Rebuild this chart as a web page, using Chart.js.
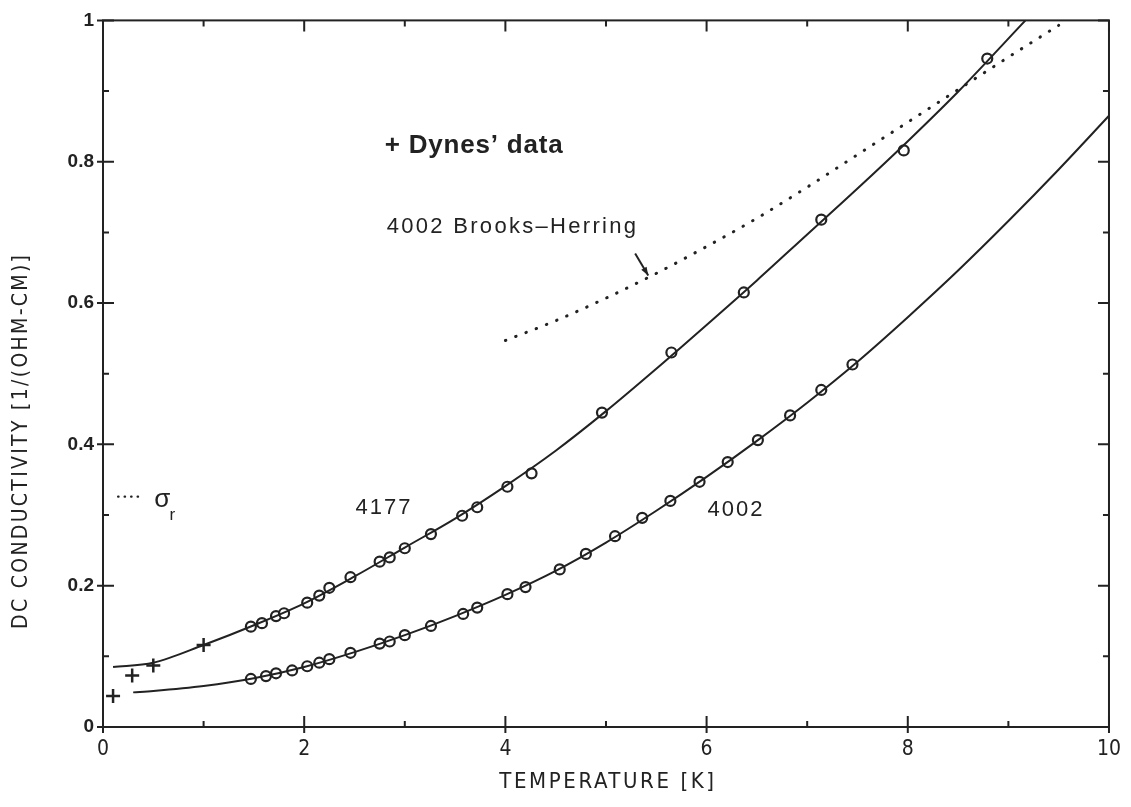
<!DOCTYPE html>
<html>
<head>
<meta charset="utf-8">
<script src="https://cdn.jsdelivr.net/npm/chart.js@4.4.1/dist/chart.umd.min.js"></script>
<style>
  html, body { margin: 0; padding: 0; background: #fff; }
  #wrap { width: 1131px; height: 807px; }
</style>
</head>
<body>
<div id="wrap"><canvas id="chart" width="1131" height="807"></canvas></div>
<script>
// values: T in K, sigma in 1/(ohm-cm)

// fitted curve, sample 4177
const fit4177T = [0.1, 0.5, 1.0, 1.5, 2.0, 2.5, 3.0, 3.5, 4.0, 4.5, 5.0, 5.5, 6.0, 6.5, 7.0, 7.5, 8.0, 8.5, 9.17];
const fit4177S = [0.085, 0.091, 0.116, 0.144, 0.175, 0.213, 0.254, 0.295, 0.341, 0.391, 0.447, 0.507, 0.569, 0.632, 0.697, 0.762, 0.829, 0.899, 1.0];

// fitted curve, sample 4002
const fit4002T = [0.3, 0.5, 1.0, 1.5, 2.0, 2.5, 3.0, 3.5, 4.0, 4.5, 5.0, 5.5, 6.0, 6.5, 7.0, 7.5, 8.0, 8.5, 9.0, 9.5, 10];
const fit4002S = [0.049, 0.051, 0.058, 0.069, 0.085, 0.106, 0.130, 0.157, 0.187, 0.221, 0.261, 0.306, 0.354, 0.405, 0.459, 0.517, 0.580, 0.646, 0.716, 0.789, 0.865];

// 4002 Brooks-Herring (dotted)
const bhT = [4.0, 4.5, 5.0, 5.5, 6.0, 6.5, 7.0, 7.5, 8.0, 8.5, 9.0, 9.5];
const bhS = [0.547, 0.575, 0.607, 0.642, 0.680, 0.720, 0.764, 0.810, 0.856, 0.902, 0.948, 0.993];

// measured points (circles)
const data4177T = [1.47, 1.58, 1.72, 1.80, 2.03, 2.15, 2.25, 2.46, 2.75, 2.85, 3.00, 3.26, 3.57, 3.72, 4.02, 4.26, 4.96, 5.65, 6.37, 7.14, 7.96, 8.79];
const data4177S = [0.142, 0.147, 0.157, 0.161, 0.176, 0.186, 0.197, 0.212, 0.234, 0.240, 0.253, 0.273, 0.299, 0.311, 0.340, 0.359, 0.445, 0.530, 0.615, 0.718, 0.816, 0.946];

const data4002T = [1.47, 1.62, 1.72, 1.88, 2.03, 2.15, 2.25, 2.46, 2.75, 2.85, 3.00, 3.26, 3.58, 3.72, 4.02, 4.20, 4.54, 4.80, 5.09, 5.36, 5.64, 5.93, 6.21, 6.51, 6.83, 7.14, 7.45];
const data4002S = [0.068, 0.072, 0.076, 0.080, 0.086, 0.091, 0.096, 0.105, 0.118, 0.121, 0.130, 0.143, 0.160, 0.169, 0.188, 0.198, 0.223, 0.245, 0.270, 0.296, 0.320, 0.347, 0.375, 0.406, 0.441, 0.477, 0.513];

// Dynes' data (crosses)
const dynesT = [0.10, 0.29, 0.50, 1.00];
const dynesS = [0.044, 0.073, 0.087, 0.116];

// ticks
const xTickValues = [0, 2, 4, 6, 8, 10];
const xMinorTicks = [1, 3, 5, 7, 9];
const yTickValues = [0, 0.2, 0.4, 0.6, 0.8, 1];
const yTickLabels = ['0', '0.2', '0.4', '0.6', '0.8', '1'];
const yMinorTicks = [0.1, 0.3, 0.5, 0.7, 0.9];

const ink = '#222';
const condensed = '"DejaVu Sans Condensed", "Liberation Sans Narrow", sans-serif';
const plain = '"Liberation Sans", Arial, sans-serif';

const pts = (xs, ys) => xs.map((v, i) => ({ x: v, y: ys[i] }));

// frame with inward ticks on all four sides
const framePlugin = {
  id: 'frame',
  afterDatasetsDraw(chart) {
    const { ctx, chartArea: a, scales: { x, y } } = chart;
    ctx.save();
    ctx.strokeStyle = ink;
    ctx.lineWidth = 2;
    ctx.strokeRect(a.left, a.top, a.right - a.left, a.bottom - a.top);
    ctx.beginPath();
    xTickValues.forEach(v => {
      const px = x.getPixelForValue(v);
      ctx.moveTo(px, a.bottom + 6); ctx.lineTo(px, a.bottom - 11);
      ctx.moveTo(px, a.top); ctx.lineTo(px, a.top + 11);
    });
    xMinorTicks.forEach(v => {
      const px = x.getPixelForValue(v);
      ctx.moveTo(px, a.bottom); ctx.lineTo(px, a.bottom - 6);
      ctx.moveTo(px, a.top); ctx.lineTo(px, a.top + 6);
    });
    yTickValues.forEach(v => {
      const py = y.getPixelForValue(v);
      ctx.moveTo(a.left - 6, py); ctx.lineTo(a.left + 11, py);
      ctx.moveTo(a.right, py); ctx.lineTo(a.right - 11, py);
    });
    yMinorTicks.forEach(v => {
      const py = y.getPixelForValue(v);
      ctx.moveTo(a.left, py); ctx.lineTo(a.left + 6, py);
      ctx.moveTo(a.right, py); ctx.lineTo(a.right - 6, py);
    });
    ctx.stroke();
    ctx.restore();
  }
};

// labels written on the figure
const textPlugin = {
  id: 'figureText',
  afterDraw(chart) {
    const { ctx, chartArea: a, scales: { x, y } } = chart;
    const put = (txt, t, s, font, spacing) => {
      ctx.font = font;
      ctx.letterSpacing = spacing || '0px';
      ctx.fillText(txt, x.getPixelForValue(t), y.getPixelForValue(s));
    };
    ctx.save();
    ctx.fillStyle = ink;
    ctx.strokeStyle = ink;
    ctx.textBaseline = 'middle';
    ctx.textAlign = 'left';

    put('+ Dynes\u2019 data', 2.80, 0.823, 'bold 26px ' + plain, '0.8px');
    put('4002 Brooks\u2013Herring', 2.82, 0.707, '22px ' + plain, '2.3px');
    put('4177', 2.51, 0.31, '22px ' + plain, '2px');
    put('4002', 6.01, 0.307, '22px ' + plain, '2px');
    put('\u03c3', 0.51, 0.322, '26px ' + plain, '0px');
    put('r', 0.66, 0.300, '17px ' + plain, '0px');

    // dotted mark before sigma_r
    ctx.setLineDash([0.5, 6]);
    ctx.lineCap = 'round';
    ctx.lineWidth = 2.2;
    ctx.beginPath();
    ctx.moveTo(x.getPixelForValue(0.15), y.getPixelForValue(0.326));
    ctx.lineTo(x.getPixelForValue(0.36), y.getPixelForValue(0.326));
    ctx.stroke();
    ctx.setLineDash([]);

    // arrow to the Brooks-Herring curve
    const ax0 = x.getPixelForValue(5.29), ay0 = y.getPixelForValue(0.670);
    const ax1 = x.getPixelForValue(5.42), ay1 = y.getPixelForValue(0.639);
    ctx.lineWidth = 2;
    ctx.lineCap = 'butt';
    ctx.beginPath();
    ctx.moveTo(ax0, ay0); ctx.lineTo(ax1, ay1);
    ctx.stroke();
    const ang = Math.atan2(ay1 - ay0, ax1 - ax0);
    ctx.beginPath();
    ctx.moveTo(ax1, ay1);
    ctx.lineTo(ax1 - 9 * Math.cos(ang - 0.35), ay1 - 9 * Math.sin(ang - 0.35));
    ctx.lineTo(ax1 - 9 * Math.cos(ang + 0.35), ay1 - 9 * Math.sin(ang + 0.35));
    ctx.closePath();
    ctx.fill();

    // x axis title (drawn here so it can take letter spacing)
    ctx.textAlign = 'center';
    ctx.font = '22px ' + condensed;
    ctx.letterSpacing = '2.6px';
    ctx.fillText('TEMPERATURE [K]', (a.left + a.right) / 2 + 2, a.bottom + 55);

    // y axis title
    ctx.translate(22, y.getPixelForValue(0.405));
    ctx.rotate(-Math.PI / 2);
    ctx.font = '21px ' + condensed;
    ctx.letterSpacing = '2.3px';
    ctx.fillText('DC CONDUCTIVITY [1/(OHM-CM)]', 0, 0);
    ctx.restore();
  }
};

const curve = (xs, ys, extra) => Object.assign({
  data: pts(xs, ys),
  showLine: true,
  pointRadius: 0,
  borderColor: ink,
  borderWidth: 2,
  cubicInterpolationMode: 'monotone',
  fill: false
}, extra || {});

const marks = (xs, ys, extra) => Object.assign({
  data: pts(xs, ys),
  showLine: false,
  pointStyle: 'circle',
  pointRadius: 5,
  pointBorderWidth: 2.2,
  pointBorderColor: ink,
  pointBackgroundColor: '#fff'
}, extra || {});

new Chart(document.getElementById('chart'), {
  type: 'scatter',
  data: {
    datasets: [
      curve(fit4177T, fit4177S, { label: '4177 fit' }),
      curve(fit4002T, fit4002S, { label: '4002 fit' }),
      curve(bhT, bhS, { label: '4002 Brooks-Herring', borderWidth: 3, borderDash: [0.5, 10.5], borderCapStyle: 'round' }),
      marks(data4177T, data4177S, { label: '4177' }),
      marks(data4002T, data4002S, { label: '4002' }),
      marks(dynesT, dynesS, { label: 'Dynes\u2019 data', pointStyle: 'cross', pointRadius: 7, pointBorderWidth: 2.5 })
    ]
  },
  options: {
    responsive: false,
    animation: false,
    devicePixelRatio: 1,
    layout: { padding: { left: 0, right: 16, top: 20, bottom: 0 } },
    plugins: {
      legend: { display: false },
      tooltip: { enabled: false }
    },
    scales: {
      x: {
        type: 'linear',
        min: 0,
        max: 10,
        afterBuildTicks: s => { s.ticks = xTickValues.map(v => ({ value: v })); },
        afterFit: s => { s.height = 80; },
        grid: { display: false, drawTicks: false },
        border: { display: false },
        ticks: { color: ink, padding: 10, font: { family: condensed, size: 21 } }
      },
      y: {
        type: 'linear',
        min: 0,
        max: 1,
        afterBuildTicks: s => { s.ticks = yTickValues.map(v => ({ value: v })); },
        afterFit: s => { s.width = 103; },
        grid: { display: false, drawTicks: false },
        border: { display: false },
        ticks: {
          color: ink,
          padding: 9,
          font: { family: plain, size: 19, weight: 'bold' },
          callback: (v, i) => yTickLabels[i]
        }
      }
    }
  },
  plugins: [framePlugin, textPlugin]
});
</script>
</body>
</html>
